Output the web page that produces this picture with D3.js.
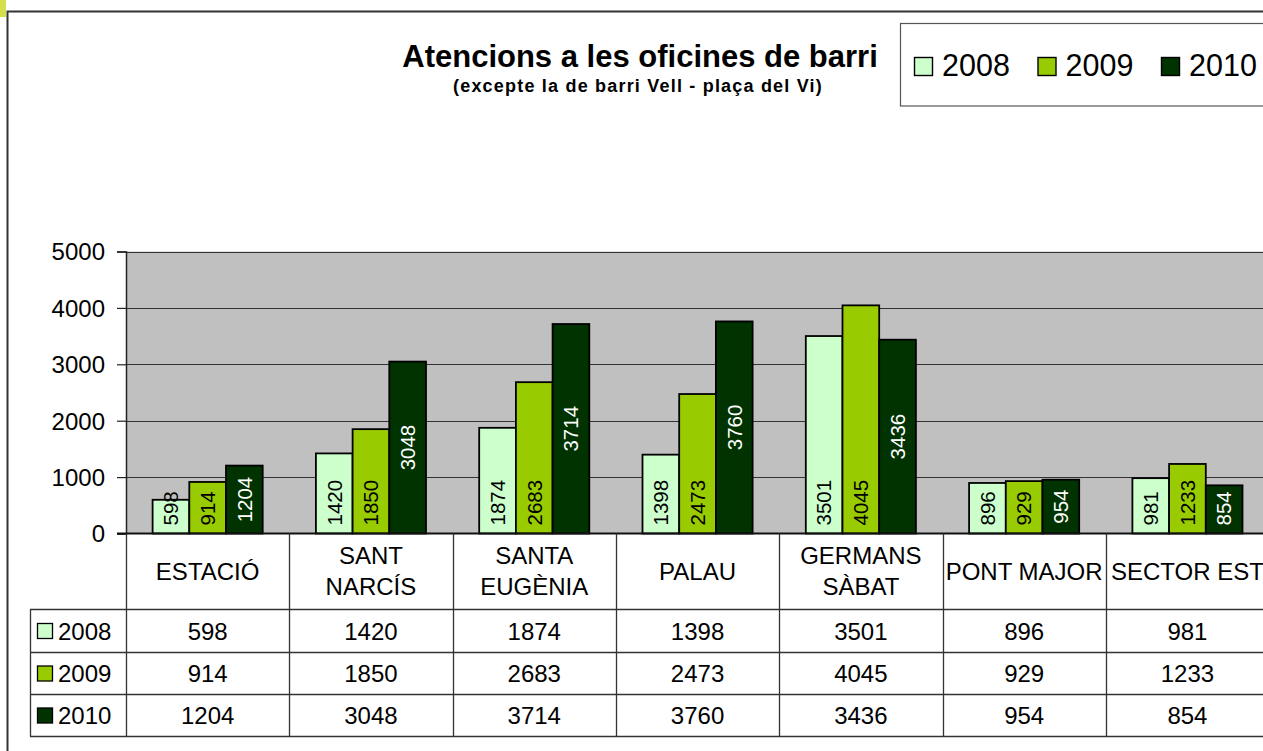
<!DOCTYPE html>
<html>
<head>
<meta charset="utf-8">
<script src="https://cdn.jsdelivr.net/npm/d3@7"></script>
<style>
  html, body { margin: 0; padding: 0; background: #fff; overflow: hidden; }
  svg { display: block; font-family: "Liberation Sans", Arial, sans-serif; }
</style>
</head>
<body>
<div id="chart"></div>
<script>
var categories = ["ESTACIÓ", "SANT NARCÍS", "SANTA EUGÈNIA", "PALAU", "GERMANS SÀBAT", "PONT MAJOR", "SECTOR EST"];
var years = ["2008", "2009", "2010"];
var values2008 = [598, 1420, 1874, 1398, 3501, 896, 981];
var values2009 = [914, 1850, 2683, 2473, 4045, 929, 1233];
var values2010 = [1204, 3048, 3714, 3760, 3436, 954, 854];
var yTicks = [0, 1000, 2000, 3000, 4000, 5000];
var colors = ["#ccffcc", "#99cc00", "#003300"];
var labelColors = ["#000", "#000", "#fff"];
var titleText = "Atencions a les oficines de barri";
var subtitleText = "(excepte la de barri Vell - plaça del Vi)";

var series = [values2008, values2009, values2010];

var width = 1263,
  height = 751;
var plotLeft = 126,
  plotTop = 251.5,
  plotBottom = 533.5,
  step = 163.3;
var rowLines = [533.5, 609.5, 652.5, 694.5, 736.5];

var svg = d3
  .select("#chart")
  .append("svg")
  .attr("width", width)
  .attr("height", height);

// small marker top-left corner
svg.append("rect").attr("x", 0).attr("y", 0).attr("width", 6).attr("height", 17).attr("fill", "#d3e04e");

// outer frame
svg
  .append("rect")
  .attr("x", 7.5)
  .attr("y", 11.5)
  .attr("width", 1400)
  .attr("height", 900)
  .attr("fill", "#fff")
  .attr("stroke", "#333")
  .attr("stroke-width", 2);

var x = d3
  .scaleBand()
  .domain(categories)
  .range([plotLeft, plotLeft + step * categories.length]);

var xInner = d3
  .scaleBand()
  .domain(years)
  .range([0, x.bandwidth()])
  .paddingInner(0)
  .paddingOuter(0.725);

var y = d3
  .scaleLinear()
  .domain([0, 5000])
  .range([plotBottom, plotTop]);

// plot background
svg
  .append("rect")
  .attr("x", plotLeft)
  .attr("y", plotTop)
  .attr("width", x.range()[1] - plotLeft)
  .attr("height", plotBottom - plotTop)
  .attr("fill", "#c0c0c0");

// grid
svg
  .append("g")
  .selectAll("line")
  .data(yTicks.slice(1))
  .enter()
  .append("line")
  .attr("x1", plotLeft)
  .attr("x2", x.range()[1])
  .attr("y1", function(d) { return Math.round(y(d)) + 0.5; })
  .attr("y2", function(d) { return Math.round(y(d)) + 0.5; })
  .attr("stroke", "#333")
  .attr("stroke-width", 1);

// y axis
var yAxis = svg
  .append("g")
  .attr("transform", "translate(" + plotLeft + ",0)")
  .call(
    d3.axisLeft(y)
      .tickValues(yTicks)
      .tickSize(9)
      .tickPadding(12)
      .tickFormat(d3.format("d"))
  );
yAxis.select(".domain").attr("stroke", "#222").attr("stroke-width", 1.5);
yAxis.selectAll(".tick line").attr("stroke", "#222").attr("stroke-width", 1.2);
yAxis
  .selectAll(".tick text")
  .attr("font-size", 24)
  .attr("font-family", "Liberation Sans, Arial, sans-serif")
  .attr("fill", "#000")
  .attr("dy", "0.35em");

// bars
var groups = svg
  .append("g")
  .selectAll("g")
  .data(series)
  .enter()
  .append("g")
  .attr("fill", function(d, i) { return colors[i]; });

groups
  .selectAll("rect")
  .data(function(d, i) {
    return d.map(function(v, j) { return { s: i, cat: categories[j], value: v }; });
  })
  .enter()
  .append("rect")
  .attr("x", function(d) { return x(d.cat) + xInner(years[d.s]); })
  .attr("y", function(d) { return y(d.value); })
  .attr("width", xInner.bandwidth())
  .attr("height", function(d) { return y(0) - y(d.value); })
  .attr("stroke", "#000")
  .attr("stroke-width", 1.8);

// bar labels
groups
  .selectAll("text")
  .data(function(d, i) {
    return d.map(function(v, j) { return { s: i, cat: categories[j], value: v }; });
  })
  .enter()
  .append("text")
  .text(function(d) { return d.value; })
  .attr("font-size", 20.5)
  .attr("fill", function(d) { return labelColors[d.s]; })
  .each(function(d) {
    var t = d3.select(this);
    var cx = x(d.cat) + xInner(years[d.s]) + xInner.bandwidth() / 2 + 7.3;
    var base = y(0) - 8;
    var len = this.getComputedTextLength();
    var cy;
    if (d.s === 2) {
      cy = Math.min((y(d.value) + y(0)) / 2, base - len / 2);
    } else {
      cy = base - len / 2;
    }
    t.attr("text-anchor", "middle").attr("transform", "translate(" + cx + "," + cy + ") rotate(-90)");
  });

// data table
var table = svg.append("g");
var right = x.range()[1];

table
  .selectAll("line.h")
  .data(rowLines)
  .enter()
  .append("line")
  .attr("class", "h")
  .attr("x1", function(d, i) { return i === 0 ? plotLeft - 9 : 30; })
  .attr("x2", right)
  .attr("y1", function(d) { return d; })
  .attr("y2", function(d) { return d; })
  .attr("stroke", function(d, i) { return i === 0 ? "#111" : "#333"; })
  .attr("stroke-width", function(d, i) { return i === 0 ? 2 : 1.3; });

var boundaries = categories.map(function(c) { return x(c); }).concat([right]);
table
  .selectAll("line.v")
  .data(boundaries)
  .enter()
  .append("line")
  .attr("class", "v")
  .attr("x1", function(d) { return Math.round(d) + 0.5; })
  .attr("x2", function(d) { return Math.round(d) + 0.5; })
  .attr("y1", rowLines[0])
  .attr("y2", rowLines[4])
  .attr("stroke", "#333")
  .attr("stroke-width", 1.3);

table
  .append("line")
  .attr("x1", 30.5)
  .attr("x2", 30.5)
  .attr("y1", rowLines[1])
  .attr("y2", rowLines[4])
  .attr("stroke", "#333")
  .attr("stroke-width", 1.3);

// category headers (wrapped when too wide)
var headers = table
  .selectAll("text.cat")
  .data(categories)
  .enter()
  .append("text")
  .attr("class", "cat")
  .attr("font-size", 24)
  .attr("text-anchor", "middle")
  .attr("fill", "#000");

headers.each(function(d) {
  var t = d3.select(this);
  var cx = x(d) + x.bandwidth() / 2;
  t.text(d);
  var lines = [d];
  if (this.getComputedTextLength() > x.bandwidth() - 4) {
    lines = d.split(" ");
  }
  t.text(null);
  var mid = (rowLines[0] + rowLines[1]) / 2 + 8.3;
  var lh = 31;
  lines.forEach(function(l, k) {
    t.append("tspan")
      .attr("x", cx)
      .attr("y", mid + (k - (lines.length - 1) / 2) * lh)
      .text(l);
  });
});

// table rows
series.forEach(function(vals, i) {
  var top = rowLines[i + 1],
    bottom = rowLines[i + 2];
  var mid = (top + bottom) / 2;
  table
    .append("rect")
    .attr("x", 37.5)
    .attr("y", mid - 7.5)
    .attr("width", 15)
    .attr("height", 15)
    .attr("fill", colors[i])
    .attr("stroke", "#000")
    .attr("stroke-width", 1.3);
  table
    .append("text")
    .attr("x", 58)
    .attr("y", mid + 8.5)
    .attr("font-size", 24)
    .attr("fill", "#000")
    .text(years[i]);
  table
    .selectAll("text.v" + i)
    .data(vals)
    .enter()
    .append("text")
    .attr("class", "v" + i)
    .attr("x", function(d, j) { return x(categories[j]) + x.bandwidth() / 2; })
    .attr("y", mid + 8.5)
    .attr("text-anchor", "middle")
    .attr("font-size", 24)
    .attr("fill", "#000")
    .text(function(d) { return d; });
});

// title
svg
  .append("text")
  .attr("x", 640)
  .attr("y", 66.7)
  .attr("text-anchor", "middle")
  .attr("font-size", 31)
  .attr("font-weight", "bold")
  .text(titleText);
svg
  .append("text")
  .attr("x", 638)
  .attr("y", 92.3)
  .attr("text-anchor", "middle")
  .attr("font-size", 18)
  .attr("font-weight", "bold")
  .attr("letter-spacing", "1.2px")
  .text(subtitleText);

// legend
var legend = svg.append("g");
legend
  .append("rect")
  .attr("x", 900.5)
  .attr("y", 23.5)
  .attr("width", 500)
  .attr("height", 82.5)
  .attr("fill", "#fff")
  .attr("stroke", "#555")
  .attr("stroke-width", 1.2);

var items = legend
  .selectAll("g.item")
  .data(years)
  .enter()
  .append("g")
  .attr("class", "item")
  .attr("transform", function(d, i) { return "translate(" + (914 + i * 123.5) + ",0)"; });
items
  .append("rect")
  .attr("x", 0.5)
  .attr("y", 57.5)
  .attr("width", 18)
  .attr("height", 18)
  .attr("fill", function(d, i) { return colors[i]; })
  .attr("stroke", "#000")
  .attr("stroke-width", 1.4);
items
  .append("text")
  .attr("x", 28)
  .attr("y", 75.5)
  .attr("font-size", 30.5)
  .attr("fill", "#000")
  .text(function(d) { return d; });
</script>
</body>
</html>
